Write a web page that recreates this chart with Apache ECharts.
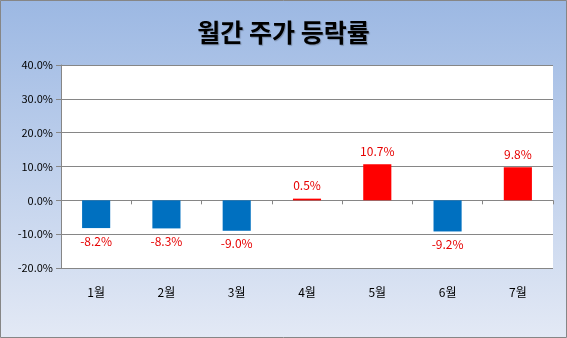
<!DOCTYPE html>
<html>
<head>
<meta charset="utf-8">
<script src="https://cdn.jsdelivr.net/npm/echarts@6/dist/echarts.min.js"></script>
<style>
  html, body { margin: 0; padding: 0; }
  #chart { width: 567px; height: 338px; }
</style>
</head>
<body>
<div id="chart"></div>
<script>
// Monthly stock price change rate (%)
const months = ['1월', '2월', '3월', '4월', '5월', '6월', '7월'];
const changeRates = [-8.2, -8.3, -9.0, 0.5, 10.7, -9.2, 9.8];
const yTicks = { min: -20, max: 40, step: 10 };

const upColor = '#ff0000';
const downColor = '#0070c0';
const gridColor = '#868686';
const labelFont = '"Noto Sans CJK KR", "Noto Sans", sans-serif';

const chart = echarts.init(document.getElementById('chart'), null, { renderer: 'canvas' });

chart.setOption({
  animation: false,
  backgroundColor: {
    type: 'linear', x: 0, y: 0, x2: 0, y2: 1,
    colorStops: [
      { offset: 0, color: '#9cb8e3' },
      { offset: 1, color: '#e3e9f5' }
    ]
  },
  graphic: [{
    type: 'rect',
    shape: { x: 0.5, y: 0.5, width: 566, height: 337 },
    style: { fill: 'none', stroke: '#868686', lineWidth: 1 },
    silent: true
  }],
  title: {
    text: '월간 주가 등락률',
    left: 'center',
    top: 15,
    textStyle: {
      fontFamily: labelFont,
      fontSize: 25,
      fontWeight: 'bold',
      color: '#000000',
      textShadowColor: 'rgba(0,0,0,0.25)',
      textShadowBlur: 1,
      textShadowOffsetX: 1,
      textShadowOffsetY: 1
    }
  },
  grid: {
    left: 61, right: 14, top: 65, bottom: 70,
    show: true, backgroundColor: '#ffffff', borderWidth: 0
  },
  xAxis: [{
    type: 'category',
    data: months,
    axisLine: { onZero: true, lineStyle: { color: gridColor, width: 1 } },
    axisTick: { show: true, alignWithLabel: false, length: 4, lineStyle: { color: gridColor } },
    axisLabel: { show: false },
    splitLine: { show: false }
  }, {
    type: 'category',
    data: months,
    position: 'bottom',
    axisLine: { show: false },
    axisTick: { show: false },
    axisLabel: {
      show: true,
      margin: 18,
      fontFamily: labelFont,
      fontSize: 12,
      color: '#000000'
    }
  }],
  yAxis: {
    type: 'value',
    min: yTicks.min,
    max: yTicks.max,
    interval: yTicks.step,
    axisLine: { show: true, lineStyle: { color: gridColor } },
    axisTick: { show: true, length: 5, lineStyle: { color: gridColor } },
    axisLabel: {
      margin: 8,
      fontFamily: labelFont,
      fontSize: 11,
      color: '#000000',
      formatter: v => v.toFixed(1) + '%'
    },
    splitLine: { show: true, lineStyle: { color: gridColor, width: 1 } }
  },
  series: [{
    type: 'bar',
    xAxisIndex: 0,
    barWidth: '40%',
    data: changeRates.map(v => ({
      value: v,
      itemStyle: { color: v >= 0 ? upColor : downColor },
      label: { position: v >= 0 ? 'top' : 'bottom' }
    })),
    label: {
      show: true,
      distance: 7,
      fontFamily: labelFont,
      fontSize: 12,
      color: '#e60000',
      formatter: p => p.value.toFixed(1) + '%'
    }
  }]
});
</script>
</body>
</html>
